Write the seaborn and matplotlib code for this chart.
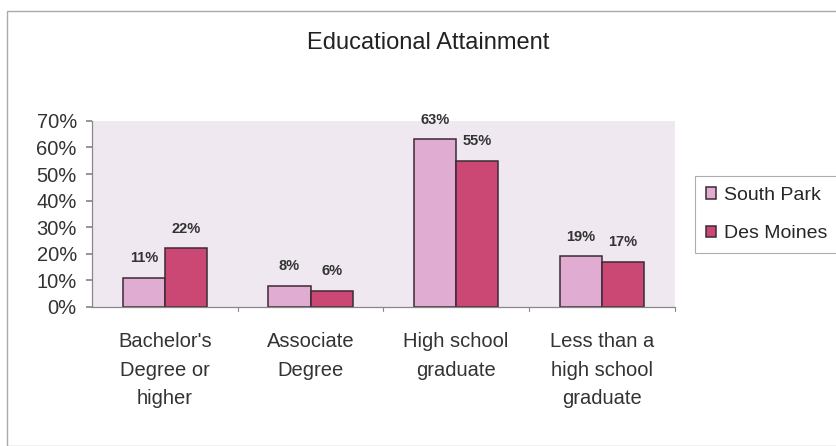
import matplotlib
matplotlib.use("Agg")
import matplotlib.pyplot as plt
import seaborn as sns
import pandas as pd
from matplotlib.patches import Rectangle

categories = ["Bachelor's\nDegree or\nhigher", "Associate\nDegree",
              "High school\ngraduate", "Less than a\nhigh school\ngraduate"]
series = ["South Park", "Des Moines"]
south_park = [11, 8, 63, 19]
des_moines = [22, 6, 55, 17]
yticks = [0, 10, 20, 30, 40, 50, 60, 70]
colors = ["#e0acd2", "#cb4874"]

df = pd.DataFrame({
    "category": categories * 2,
    "series": [series[0]] * 4 + [series[1]] * 4,
    "value": south_park + des_moines,
})

sns.set_theme(style="white")
plt.rcParams["font.family"] = ["Liberation Sans", "DejaVu Sans"]

fig = plt.figure(figsize=(8.37, 4.46), dpi=100)
fig.patch.set_facecolor("white")
ax = fig.add_axes([0.110, 0.312, 0.696, 0.417])
ax.set_facecolor("#efe8f1")

sns.barplot(data=df, x="category", y="value", hue="series", order=categories,
            hue_order=series, palette=colors, saturation=1, width=0.58, gap=0,
            edgecolor="#3a2a35", linewidth=1.1, ax=ax, legend=True)

for cont, vals in zip(ax.containers, [south_park, des_moines]):
    ax.bar_label(cont, labels=[f"{v}%" for v in vals], padding=9,
                 fontsize=10.5, color="#333333", fontweight="bold")

ax.set_ylim(0, 70)
ax.set_xlim(-0.5, 3.5)
ax.set_yticks(yticks)
ax.set_yticklabels([f"{t}%" for t in yticks], fontsize=14.5, color="#333333")
ax.set_xticks([0, 1, 2, 3])
ax.set_xticklabels(categories, fontsize=14.5, color="#333333", linespacing=1.65)
ax.set_xlabel("")
ax.set_ylabel("")
ax.tick_params(axis="x", length=0, pad=18)
ax.tick_params(axis="y", length=4, color="#888888", left=True, pad=7)
for x in [0.5, 1.5, 2.5, 3.5]:
    ax.plot([x, x], [0, -1.5], color="#888888", lw=0.8, clip_on=False)

for side in ["top", "right"]:
    ax.spines[side].set_visible(False)
for side in ["left", "bottom"]:
    ax.spines[side].set_color("#888888")
    ax.spines[side].set_linewidth(0.9)

leg = ax.legend(loc="center left", bbox_to_anchor=(1.035, 0.495), frameon=True,
                fontsize=14, handlelength=0.55, handleheight=0.55,
                handletextpad=0.4, labelspacing=1.1, borderpad=0.55,
                borderaxespad=0, fancybox=False, edgecolor="#999999")
leg.get_frame().set_linewidth(0.8)
for h in leg.legend_handles:
    h.set_edgecolor("#3a2a35")

fig.text(0.512, 0.903, "Educational Attainment", ha="center", va="center",
         fontsize=17, color="#222222")

fig.add_artist(Rectangle((0.008, 0.0), 1.2, 0.975, transform=fig.transFigure,
                         fill=False, edgecolor="#aaaaaa", linewidth=1.0))

fig.savefig("out.png", dpi=100)
